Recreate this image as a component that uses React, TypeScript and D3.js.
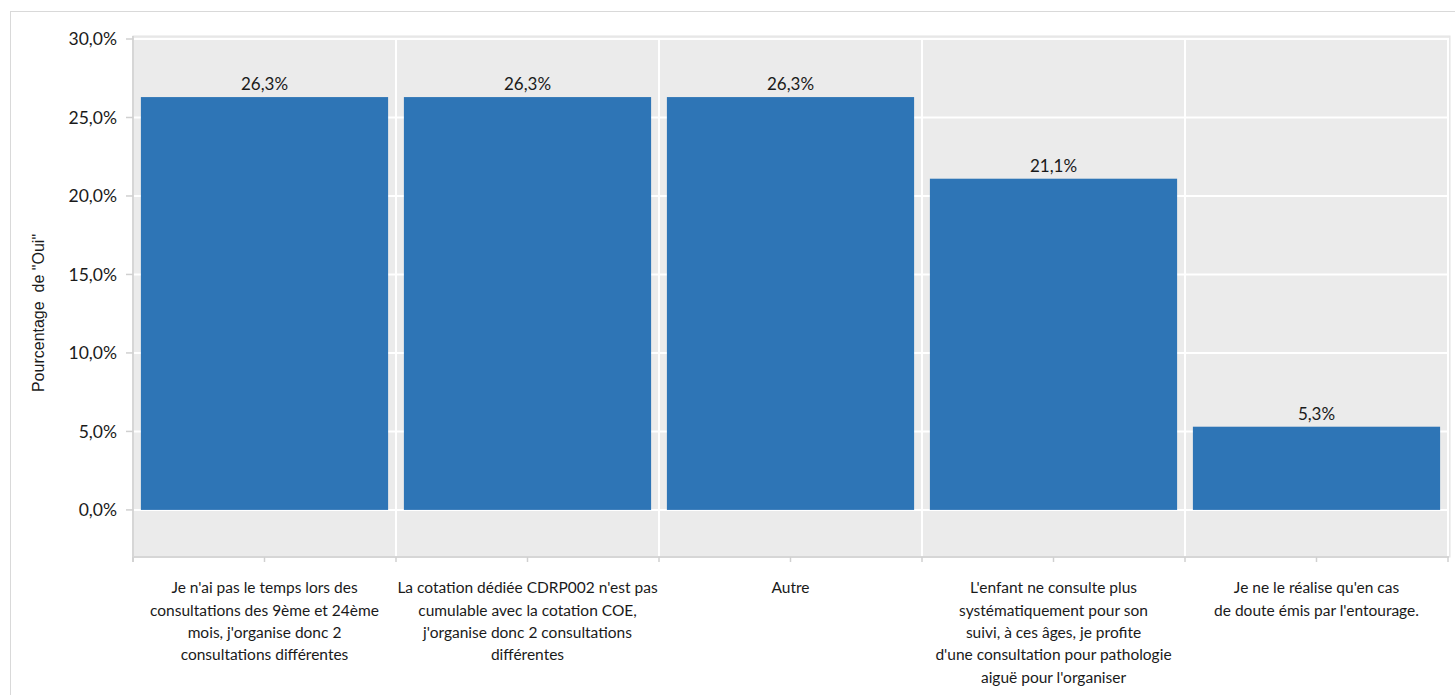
import React from "react";
import * as d3 from "d3";

const categories: string[][] = [
  ["Je n'ai pas le temps lors des", "consultations des 9ème et 24ème", "mois, j'organise donc 2", "consultations différentes"],
  ["La cotation dédiée CDRP002 n'est pas", "cumulable avec la cotation COE,", "j'organise donc 2 consultations", "différentes"],
  ["Autre"],
  ["L'enfant ne consulte plus", "systématiquement pour son", "suivi, à ces âges, je profite", "d'une consultation pour pathologie", "aiguë pour l'organiser"],
  ["Je ne le réalise qu'en cas", "de doute émis par l'entourage."],
];
const values: number[] = [26.3, 26.3, 26.3, 21.1, 5.3];
const yTicks: number[] = [0, 5, 10, 15, 20, 25, 30];
const yLabel = 'Pourcentage  de "Oui"';

const W = 1455;
const H = 695;
const plotLeft = 133;
const plotRight = 1448;
const plotTop = 36;
const plotBottom = 557;

const fmt = (v: number) => v.toFixed(1).replace(".", ",") + "%";

export default function App() {
  const ids = categories.map((_, i) => String(i));
  const x = d3.scaleBand<string>().domain(ids).range([plotLeft, plotRight]).paddingInner(0.06).paddingOuter(0.03);
  const y = d3.scaleLinear().domain([-3, 30]).range([plotBottom, 39]);
  const step = x.step();
  const boundaries = d3.range(categories.length + 1).map((i) => plotLeft + i * step);
  const font = "Lato, 'Open Sans', sans-serif";
  return (
    <svg width={W} height={H} style={{ position: "absolute", left: 0, top: 0, background: "#fff" }}>
      {/* outer frame */}
      <line x1={10} x2={W} y1={11.5} y2={11.5} stroke="#d9d9d9" strokeWidth={1} />
      <line x1={10.5} x2={10.5} y1={11} y2={H} stroke="#d9d9d9" strokeWidth={1} />
      {/* plot background */}
      <rect x={plotLeft} y={plotTop} width={plotRight - plotLeft + 2} height={plotBottom - plotTop} fill="#ebebeb" stroke="#e3e3e3" strokeWidth={1} />
      {/* horizontal grid */}
      {yTicks.map((t) => (
        <line key={"h" + t} x1={plotLeft} x2={plotRight} y1={y(t)} y2={y(t)} stroke="#fff" strokeWidth={2} />
      ))}
      {/* vertical grid */}
      {boundaries.slice(1).map((b, i) => (
        <line key={"v" + i} x1={b} x2={b} y1={plotTop + 2} y2={plotBottom} stroke="#fff" strokeWidth={2} />
      ))}
      {/* axes lines */}
      <line x1={plotLeft} x2={plotLeft} y1={plotTop} y2={plotBottom + 5} stroke="#d6d6d6" strokeWidth={2} />
      <line x1={plotLeft} x2={plotRight + 1} y1={plotBottom} y2={plotBottom} stroke="#d6d6d6" strokeWidth={2} />
      {/* y ticks */}
      {yTicks.map((t) => (
        <g key={"yt" + t}>
          <line x1={plotLeft - 7} x2={plotLeft} y1={y(t)} y2={y(t)} stroke="#d0d0d0" strokeWidth={1.5} />
          <text x={117} y={y(t)} dy="0.35em" textAnchor="end" fontFamily={font} fontSize={17.5} fill="#1a1a1a">
            {fmt(t)}
          </text>
        </g>
      ))}
      {/* x ticks */}
      {boundaries.map((b, i) => (
        <line key={"xb" + i} x1={b} x2={b} y1={plotBottom} y2={plotBottom + 5} stroke="#d0d0d0" strokeWidth={1.5} />
      ))}
      {ids.map((id) => (
        <line key={"xc" + id} x1={x(id)! + x.bandwidth() / 2} x2={x(id)! + x.bandwidth() / 2} y1={plotBottom} y2={plotBottom + 5} stroke="#d0d0d0" strokeWidth={1.5} />
      ))}
      {/* bars */}
      {ids.map((id, i) => (
        <rect key={"b" + id} x={x(id)} y={y(values[i])} width={x.bandwidth()} height={y(0) - y(values[i])} fill="#2e75b6" />
      ))}
      {/* value labels */}
      {ids.map((id, i) => (
        <text key={"vl" + id} x={x(id)! + x.bandwidth() / 2} y={y(values[i]) - 13} dy="0.35em" textAnchor="middle" fontFamily={font} fontSize={17} fill="#1a1a1a">
          {fmt(values[i])}
        </text>
      ))}
      {/* category labels */}
      {ids.map((id, i) => (
        <text key={"cl" + id} textAnchor="middle" fontFamily={font} fontSize={15.5} fill="#1a1a1a">
          {categories[i].map((ln, j) => (
            <tspan key={j} x={x(id)! + x.bandwidth() / 2} y={588 + j * 22.3} dy="0.35em">
              {ln}
            </tspan>
          ))}
        </text>
      ))}
      {/* y axis title */}
      <text transform={`translate(44,${313}) rotate(-90)`} textAnchor="middle" fontFamily="'Liberation Sans', Arial, sans-serif" fontSize={16} fill="#1a1a1a" style={{ whiteSpace: "pre" }}>
        {yLabel}
      </text>
    </svg>
  );
}
